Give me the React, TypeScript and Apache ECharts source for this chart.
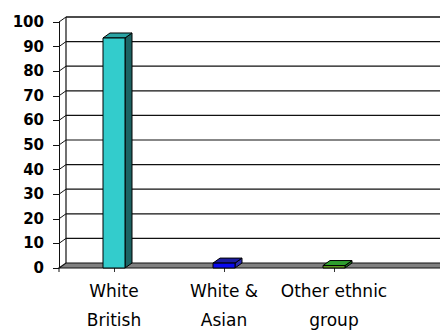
import React, { useEffect, useRef } from "react";
import * as echarts from "echarts";

// Ethnic group shares (%)
const categories = ["White\nBritish", "White &\nAsian", "Other ethnic\ngroup"];
const values = [93.5, 2, 1];
const frontColors = ["#33CCCC", "#0A0AF0", "#5E9A1E"];
const topColors = ["#2AA3A3", "#1C1CA0", "#2E9E2E"];
const sideColors = ["#1C6262", "#2A2AAE", "#1F6E1F"];
const yTicks = [0, 10, 20, 30, 40, 50, 60, 70, 80, 90, 100];

// 3D depth offset of the back wall and bar bodies
const DX = 7;
const DY = -5;
const BAR_W = 22;
const LINE = "#111";

export default function App() {
  const ref = useRef<HTMLDivElement>(null);

  useEffect(() => {
    if (!ref.current) return;
    const chart = echarts.init(ref.current, null, { renderer: "svg" });

    const wallData = yTicks.map((v) => [0, v]);
    const barData = values.map((v, i) => [i, v]);

    chart.setOption({
      animation: false,
      grid: { left: 59, top: 22, width: 330, height: 249 },
      xAxis: {
        type: "category",
        data: categories,
        axisLine: { show: false },
        axisTick: {
          show: true,
          alignWithLabel: true,
          length: 4,
          lineStyle: { color: "#333", width: 1 },
        },
        axisLabel: {
          margin: 8,
          fontFamily: "DejaVu Sans",
          fontSize: 17,
          lineHeight: 29,
          color: "#000",
          interval: 0,
        },
        splitLine: { show: false },
      },
      yAxis: {
        type: "value",
        min: 0,
        max: 100,
        interval: 10,
        axisLine: { show: true, lineStyle: { color: LINE, width: 1 } },
        axisTick: { show: true, length: 6, lineStyle: { color: LINE, width: 1 } },
        axisLabel: {
          margin: 15,
          fontFamily: "DejaVu Sans",
          fontWeight: "bold",
          fontSize: 15,
          color: "#000",
        },
        splitLine: { show: false },
      },
      series: [
        {
          // back wall, floor and depth connectors
          type: "custom",
          silent: true,
          z: 1,
          data: wallData,
          renderItem: (params: any, api: any) => {
            const cs = params.coordSys;
            const x0 = cs.x;
            const right = api.getWidth() + 10;
            const v = api.value(1);
            const y = api.coord([0, v])[1];
            const y0 = api.coord([0, 0])[1];
            const yTop = api.coord([0, 100])[1];
            const children: any[] = [];
            if (v === 0) {
              children.push({
                type: "polygon",
                shape: {
                  points: [
                    [x0, y0],
                    [right, y0],
                    [right + DX, y0 + DY],
                    [x0 + DX, y0 + DY],
                  ],
                },
                style: { fill: "#808080", stroke: LINE, lineWidth: 1.2 },
              });
              children.push({
                type: "line",
                shape: { x1: x0 + DX, y1: y0 + DY, x2: x0 + DX, y2: yTop + DY },
                style: { stroke: LINE, lineWidth: 1.2 },
              });
              children.push({
                type: "line",
                shape: { x1: x0, y1: y0, x2: x0, y2: y0 + 4 },
                style: { stroke: LINE, lineWidth: 1 },
              });
            } else {
              children.push({
                type: "line",
                shape: { x1: x0, y1: y, x2: x0 + DX, y2: y + DY },
                style: { stroke: LINE, lineWidth: 1 },
              });
              children.push({
                type: "line",
                shape: { x1: x0 + DX, y1: y + DY, x2: right, y2: y + DY },
                style: { stroke: LINE, lineWidth: v === 100 ? 1.6 : 1.2 },
              });
            }
            return { type: "group", children };
          },
        },
        {
          // 3D bars: front face, right side, top
          type: "custom",
          z: 3,
          data: barData,
          renderItem: (params: any, api: any) => {
            const i = api.value(0);
            const v = api.value(1);
            const top = api.coord([i, v]);
            const base = api.coord([i, 0]);
            const l = top[0] - BAR_W / 2;
            const r = top[0] + BAR_W / 2;
            const yt = top[1];
            const yb = base[1];
            const stroke = { stroke: "#000", lineWidth: 1 };
            return {
              type: "group",
              children: [
                {
                  type: "polygon",
                  shape: {
                    points: [
                      [r, yt],
                      [r + DX, yt + DY],
                      [r + DX, yb + DY],
                      [r, yb],
                    ],
                  },
                  style: { fill: sideColors[i], ...stroke },
                },
                {
                  type: "polygon",
                  shape: {
                    points: [
                      [l, yt],
                      [r, yt],
                      [r + DX, yt + DY],
                      [l + DX, yt + DY],
                    ],
                  },
                  style: { fill: topColors[i], ...stroke },
                },
                {
                  type: "rect",
                  shape: { x: l, y: yt, width: BAR_W, height: yb - yt },
                  style: { fill: frontColors[i], ...stroke },
                },
              ],
            };
          },
        },
      ],
    });

    return () => chart.dispose();
  }, []);

  return (
    <div
      ref={ref}
      style={{ position: "absolute", left: 0, top: 0, width: 440, height: 334, background: "#fff" }}
    />
  );
}
